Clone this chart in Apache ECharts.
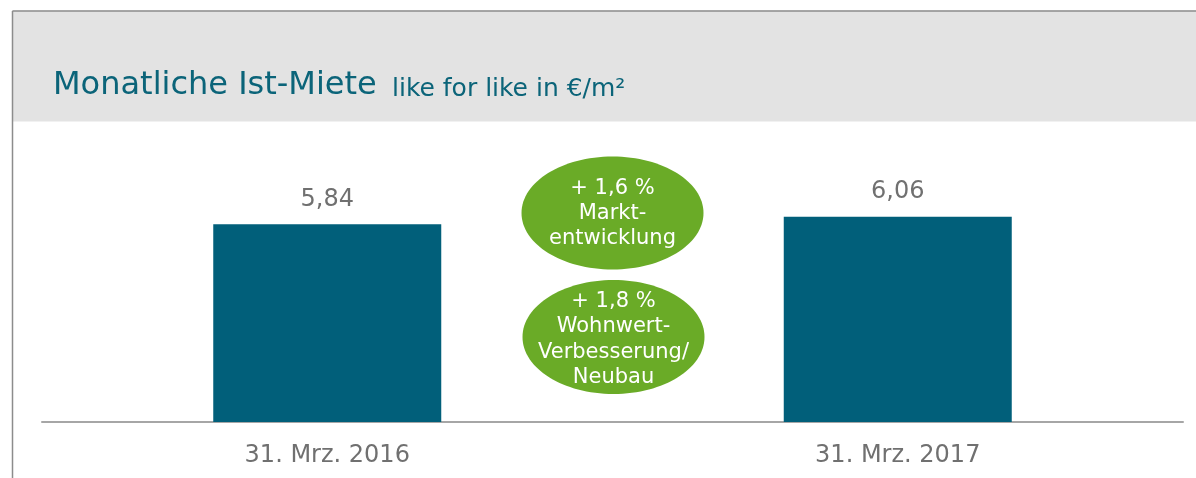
<!DOCTYPE html>
<html><head><meta charset="utf-8">
<script src="https://cdn.jsdelivr.net/npm/echarts@6/dist/echarts.min.js"></script>
<style>html,body{margin:0;padding:0;background:#fff}#c{width:1196px;height:478px}</style>
</head><body><div id="c"></div>
<script>
const categories = ['31. Mrz. 2016', '31. Mrz. 2017'];
const values = [5.84, 6.06];
const bubble1Lines = ['+ 1,6 %', 'Markt-', 'entwicklung'];
const bubble2Lines = ['+ 1,8 %', 'Wohnwert-', 'Verbesserung/', 'Neubau'];
const titleText = 'Monatliche Ist-Miete';
const subtitleText = 'like for like in €/m²';

const FONT = '"DejaVu Sans", Verdana, sans-serif';
const chart = echarts.init(document.getElementById('c'), null, {renderer: 'canvas'});
chart.setOption({
  animation: false,
  backgroundColor: '#fff',
  grid: {left: 42, right: 13, top: 151.2, bottom: 56, containLabel: false},
  xAxis: {
    type: 'category', data: categories,
    axisLine: {lineStyle: {color: '#a6a6a6', width: 2}},
    axisTick: {show: false},
    axisLabel: {color: '#707070', fontSize: 24, fontFamily: FONT, margin: 22}
  },
  yAxis: {type: 'value', min: 0, max: 8, show: false, splitLine: {show: false}},
  series: [{
    type: 'bar', data: values, barWidth: 228,
    itemStyle: {color: '#015f7a'},
    label: {show: true, position: 'top', distance: 13, color: '#707070', fontSize: 24, fontFamily: FONT,
      formatter: p => p.value.toFixed(2).replace('.', ',')}
  }],
  graphic: [
    {type: 'rect', z: -10, shape: {x: 12, y: 10.5, width: 1200, height: 111}, style: {fill: '#e3e3e3'}},
    {type: 'line', z: -5, shape: {x1: 12.5, y1: 11, x2: 1196, y2: 11}, style: {stroke: '#8c8c8c', lineWidth: 1.5}},
    {type: 'line', z: -5, shape: {x1: 12.5, y1: 11, x2: 12.5, y2: 478}, style: {stroke: '#8c8c8c', lineWidth: 1.5}},
    {type: 'text', style: {x: 53, y: 86, text: titleText, fill: '#0b6479', fontSize: 32, fontFamily: FONT, verticalAlign: 'middle'}},
    {type: 'text', style: {x: 392, y: 89, text: subtitleText, fill: '#0b6479', fontSize: 25, fontFamily: FONT, verticalAlign: 'middle'}},
    {type: 'ellipse', shape: {cx: 612.5, cy: 213, rx: 91, ry: 56.5}, style: {fill: '#6aab27'}},
    {type: 'ellipse', shape: {cx: 613.5, cy: 337, rx: 91, ry: 57}, style: {fill: '#6aab27'}},
    {type: 'text', style: {x: 612.5, y: 214, text: bubble1Lines.join('\n'), fill: '#fff', fontSize: 21, lineHeight: 25,
      fontFamily: FONT, align: 'center', verticalAlign: 'middle'}},
    {type: 'text', style: {x: 613.5, y: 339.5, text: bubble2Lines.join('\n'), fill: '#fff', fontSize: 21, lineHeight: 25.3,
      fontFamily: FONT, align: 'center', verticalAlign: 'middle'}}
  ]
});
</script></body></html>
